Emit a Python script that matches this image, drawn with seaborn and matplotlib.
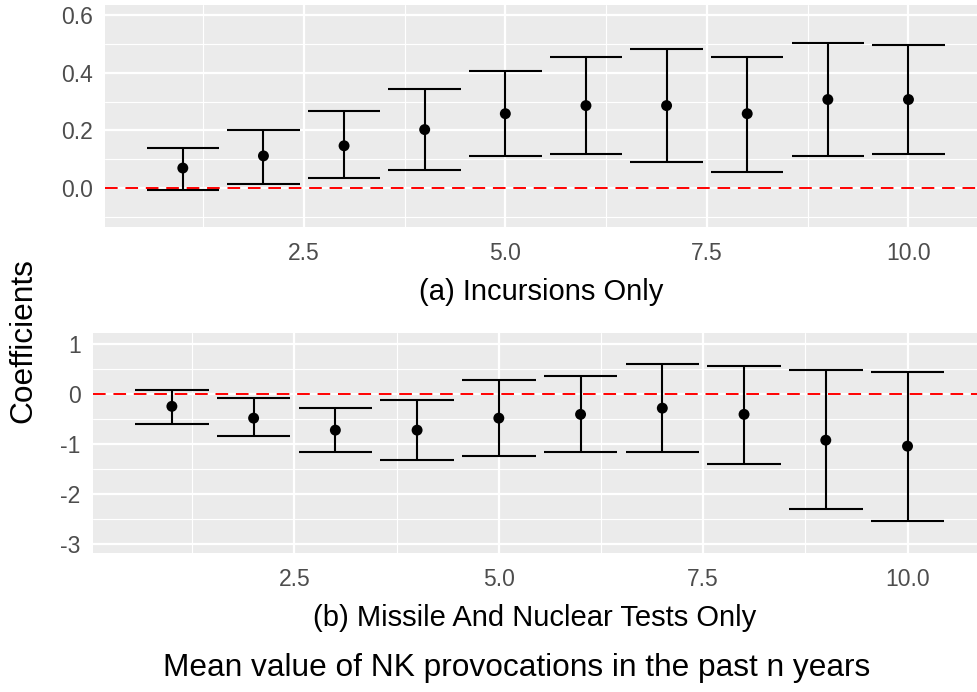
import numpy as np
import pandas as pd
import matplotlib
matplotlib.use("Agg")
import matplotlib.pyplot as plt
import seaborn as sns

# ---- data ----
n_years = [1, 2, 3, 4, 5, 6, 7, 8, 9, 10]

inc_coef  = [0.070, 0.112, 0.147, 0.203, 0.258, 0.286, 0.286, 0.258, 0.307, 0.307]
inc_upper = [0.141, 0.203, 0.266, 0.342, 0.406, 0.453, 0.481, 0.453, 0.503, 0.496]
inc_lower = [-0.006, 0.015, 0.036, 0.064, 0.113, 0.119, 0.090, 0.056, 0.113, 0.119]

mis_coef  = [-0.25, -0.485, -0.724, -0.724, -0.485, -0.41, -0.286, -0.41, -0.924, -1.043]
mis_upper = [0.073, -0.086, -0.286, -0.126, 0.272, 0.352, 0.598, 0.558, 0.472, 0.432]
mis_lower = [-0.60, -0.844, -1.163, -1.32, -1.24, -1.163, -1.163, -1.40, -2.286, -2.525]

x_ticks = [2.5, 5.0, 7.5, 10.0]
x_tick_labels = ["2.5", "5.0", "7.5", "10.0"]
top_yticks = [0.0, 0.2, 0.4, 0.6]
top_yticklabels = ["0.0", "0.2", "0.4", "0.6"]
bot_yticks = [-3, -2, -1, 0, 1]
bot_yticklabels = ["-3", "-2", "-1", "0", "1"]

top_label = "(a) Incursions Only"
bot_label = "(b) Missile And Nuclear Tests Only"
y_title = "Coefficients"
x_title = "Mean value of NK provocations in the past n years"

df_inc = pd.DataFrame({"n": n_years, "coef": inc_coef, "lo": inc_lower, "hi": inc_upper})
df_mis = pd.DataFrame({"n": n_years, "coef": mis_coef, "lo": mis_lower, "hi": mis_upper})

sns.set_theme(style="darkgrid")
plt.rcParams["font.family"] = ["Liberation Sans", "DejaVu Sans"]
plt.rcParams["axes.unicode_minus"] = False

W, H = 977, 692
fig = plt.figure(figsize=(W / 100, H / 100), dpi=100)
fig.patch.set_facecolor("white")

def px_axes(l, t, r, b):
    return fig.add_axes([l / W, 1 - b / H, (r - l) / W, (b - t) / H])

ax1 = px_axes(105, 5, 977, 227)
ax2 = px_axes(93, 333, 977, 553)

TICK_FS = 16.5
LAB_FS = 21
TITLE_FS = 22.8
GRID_BG = "#EBEBEB"

def style(ax, df, ylim, yticks, yticklabels, minor_y, xlabel):
    ax.set_facecolor(GRID_BG)
    for s in ax.spines.values():
        s.set_visible(False)
    ax.set_xlim(0.035, 10.85)
    ax.set_ylim(*ylim)
    ax.set_xticks(x_ticks)
    ax.set_xticklabels(x_tick_labels)
    ax.set_yticks(yticks)
    ax.set_yticklabels(yticklabels)
    ax.set_xticks([1.25, 3.75, 6.25, 8.75], minor=True)
    ax.set_yticks(minor_y, minor=True)
    ax.grid(which="major", color="white", linewidth=1.6)
    ax.grid(which="minor", color="white", linewidth=0.8)
    ax.tick_params(which="major", length=4, width=1.1, color="#333333",
                   labelsize=TICK_FS, labelcolor="#4D4D4D", pad=5)
    ax.tick_params(axis="x", which="major", pad=7)
    ax.tick_params(which="minor", length=0)
    ax.set_axisbelow(True)
    ax.axhline(0, color="red", linestyle=(0, (6.5, 4)), linewidth=1.4, zorder=2)
    ax.vlines(df["n"], df["lo"], df["hi"], color="black", linewidth=1.5, zorder=3)
    ax.hlines(df["hi"], df["n"] - 0.45, df["n"] + 0.45, color="black", linewidth=1.5, zorder=3)
    ax.hlines(df["lo"], df["n"] - 0.45, df["n"] + 0.45, color="black", linewidth=1.5, zorder=3)
    sns.scatterplot(data=df, x="n", y="coef", ax=ax, color="black", s=62,
                    edgecolor="none", zorder=4)
    ax.set_ylabel("")
    ax.set_xlabel(xlabel, fontsize=LAB_FS, color="black", labelpad=9)

style(ax1, df_inc, (-0.134, 0.634), top_yticks, top_yticklabels,
      [-0.1, 0.1, 0.3, 0.5], top_label)
style(ax2, df_mis, (-3.17, 1.21), bot_yticks, bot_yticklabels,
      [-2.5, -1.5, -0.5, 0.5], bot_label)

fig.text(23 / W, 1 - 341 / H, y_title, rotation=90, fontsize=TITLE_FS,
         ha="center", va="center", color="black")
fig.text(517 / W, 1 - 668 / H, x_title, fontsize=TITLE_FS,
         ha="center", va="center", color="black")

fig.savefig("out.png", dpi=100, facecolor="white")
